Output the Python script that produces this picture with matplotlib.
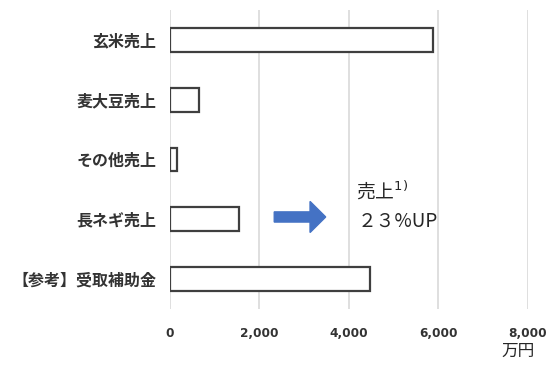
import matplotlib.pyplot as plt
from matplotlib.patches import FancyArrow

plt.rcParams['font.family'] = ['Noto Sans CJK JP', 'DejaVu Sans']

# 売上と補助金（万円）
labels = ['玄米売上', '麦大豆売上', 'その他売上', '長ネギ売上', '【参考】受取補助金']
values = [5880, 650, 150, 1550, 4470]
xticks = [0, 2000, 4000, 6000, 8000]

fig = plt.figure(figsize=(5.5, 3.65), dpi=100)
ax = fig.add_axes([0.309, 0.153, 0.651, 0.82])

ypos = list(range(len(labels)))
ax.barh(ypos, values, height=0.4, color='white', edgecolor='#3f3f3f', linewidth=1.6, zorder=3)

ax.set_ylim(len(labels) - 0.5, -0.5)
ax.set_xlim(0, 8000)
ax.set_yticks(ypos)
ax.set_yticklabels(labels, fontsize=11.5, fontweight='bold', color='#333333')
ax.set_xticks(xticks)
ax.set_xticklabels(['{:,}'.format(v) for v in xticks], fontsize=8.7, fontweight='bold',
                   color='#333333', family='DejaVu Sans')
ax.tick_params(axis='y', length=0, pad=10)
ax.tick_params(axis='x', length=0, pad=13)
ax.grid(axis='x', color='#d9d9d9', linewidth=1.2, zorder=0)
for s in ax.spines.values():
    s.set_visible(False)

# 矢印と注記
ax.add_patch(FancyArrow(2330, 2.96, 800, 0, width=0.17, head_width=0.52,
                        head_length=350, length_includes_head=False,
                        color='#4472c4', zorder=4))
ax.text(4150, 2.53, '売上$^{1)}$', fontsize=13.5, color='#262626', va='center', ha='left')
ax.text(4200, 3.04, '２３%UP', fontsize=13.5, color='#262626', va='center', ha='left')

fig.text(0.942, 0.025, '万円', fontsize=12, color='#262626', ha='center')

fig.savefig('out.png')
